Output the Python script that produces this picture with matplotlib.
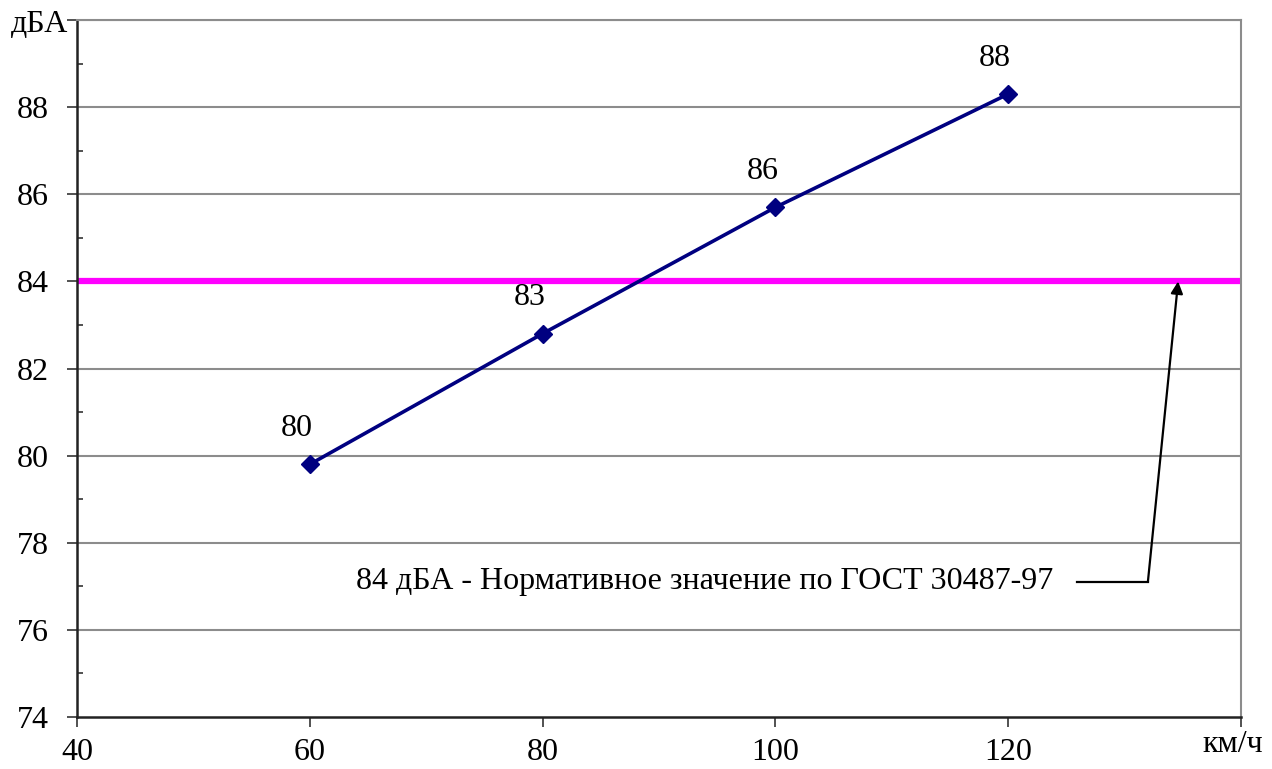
import numpy as np
import matplotlib.pyplot as plt
from matplotlib.ticker import MultipleLocator

# speed, km/h and noise level, dBA
speed = [60, 80, 100, 120]
noise = [79.8, 82.8, 85.7, 88.3]
noise_labels = ['80', '83', '86', '88']
norm_level = 84
norm_text = '84 дБА - Нормативное значение по ГОСТ 30487-97'

plt.rcParams['font.family'] = ['Liberation Serif', 'DejaVu Serif']

fig = plt.figure(figsize=(12.72, 7.69), dpi=100)
ax = fig.add_axes([77/1272, 1 - 717/769, (1241-77)/1272, (717-20)/769])

ax.set_xlim(40, 140)
ax.set_ylim(74, 90)

# horizontal grid
for y in range(76, 91, 2):
    ax.axhline(y, color='#8c8c8c', lw=1.5, zorder=1)

# norm line
ax.axhline(norm_level, color='#ff00ff', lw=4.5, zorder=2)

# measured noise
ax.plot(speed, noise, color='#000080', lw=2.6, marker='D', ms=9,
        markerfacecolor='#000080', zorder=3)
for x, y, t in zip(speed, noise, noise_labels):
    ax.annotate(t, (x, y), xytext=(-13, 36), textcoords='offset pixels',
                ha='center', va='center', fontsize=23)

# callout for the norm line
ax.text(123.85, 77.1, norm_text, ha='right', va='center', fontsize=23)
ax.plot([125.9, 132.0], [77.1, 77.1], color='black', lw=1.6, zorder=4)
ax.annotate('', xy=(134.6, 84.0), xytext=(132.0, 77.1),
            arrowprops=dict(arrowstyle='-|>', color='black', lw=1.6,
                            mutation_scale=18, shrinkA=0, shrinkB=0),
            zorder=4)

ax.set_xticks([40, 60, 80, 100, 120, 140])
ax.set_xticklabels(['40', '60', '80', '100', '120', ''])
ax.set_yticks(range(74, 91, 2))
ax.set_yticklabels([str(v) for v in range(74, 89, 2)] + [''])
ax.yaxis.set_minor_locator(MultipleLocator(1))

ax.tick_params(axis='both', which='major', labelsize=23, direction='out',
               length=7, width=1.2, color='#333333')
ax.tick_params(axis='y', which='major', pad=13)
ax.tick_params(axis='x', which='major', pad=8)
ax.tick_params(axis='y', which='minor', direction='in', length=4.5, width=1.2,
               color='#333333')

for s in ['left', 'bottom']:
    ax.spines[s].set_color('#222222')
    ax.spines[s].set_linewidth(1.8)
for s in ['top', 'right']:
    ax.spines[s].set_color('#8c8c8c')
    ax.spines[s].set_linewidth(1.5)

fig.text(40/1272, 1 - 25/769, 'дБА', ha='center', va='center', fontsize=23)
fig.text(1233/1272, 1 - 745/769, 'км/ч', ha='center', va='center', fontsize=23)

fig.savefig('out.png', dpi=100, facecolor='white')
